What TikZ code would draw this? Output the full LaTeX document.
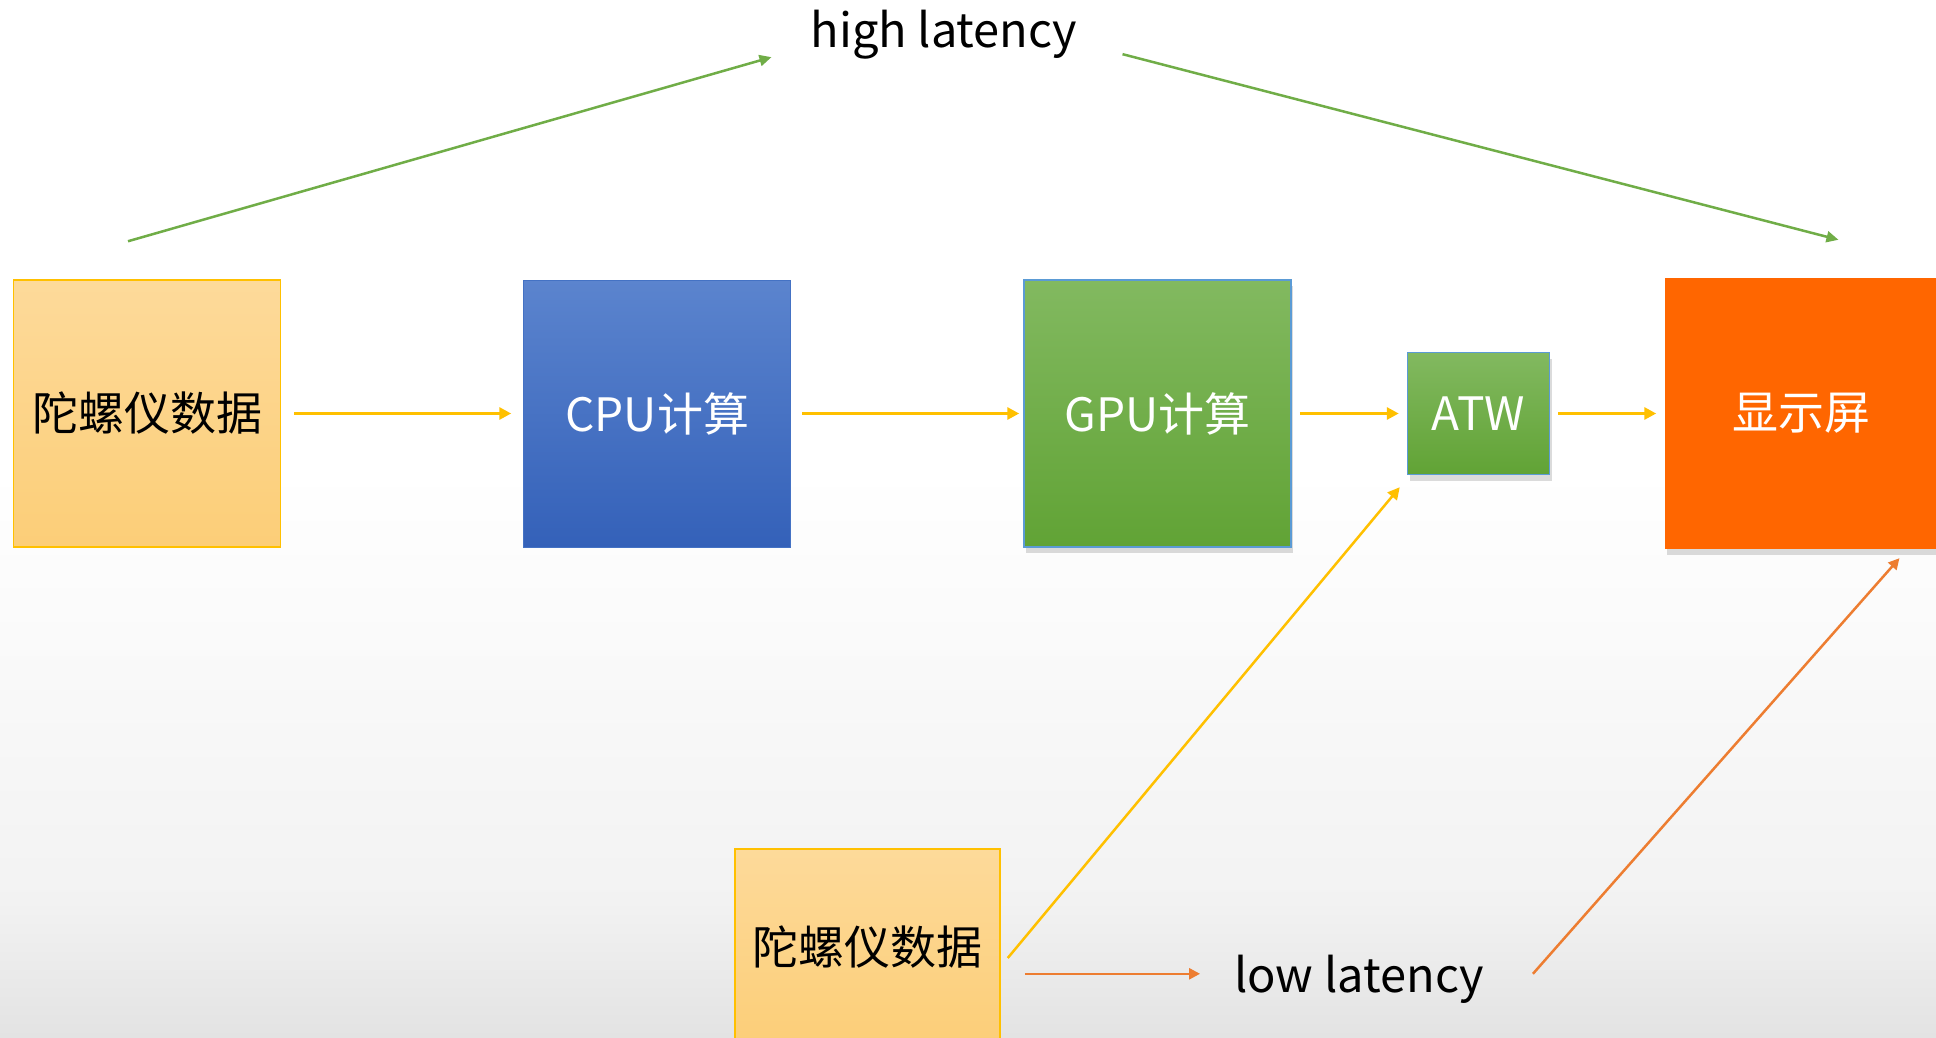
\documentclass[tikz,border=0pt]{standalone}
\usepackage{fontspec}
\newfontfamily\cjk{Noto Sans CJK SC}
\usepackage{xcolor}
\usetikzlibrary{arrows.meta,positioning,shadows}

\definecolor{gyroTop}{HTML}{FDDA9A}
\definecolor{gyroBot}{HTML}{FCCE78}
\definecolor{gyroEdge}{HTML}{FFC000}
\definecolor{cpuTop}{HTML}{5B84CE}
\definecolor{cpuBot}{HTML}{3461B9}
\definecolor{cpuEdge}{HTML}{4472C4}
\definecolor{gpuTop}{HTML}{82B960}
\definecolor{gpuBot}{HTML}{61A335}
\definecolor{gpuEdge}{HTML}{5B9BD5}
\definecolor{screenFill}{HTML}{FF6600}
\definecolor{arrYellow}{HTML}{FFC000}
\definecolor{arrGreen}{HTML}{70AD47}
\definecolor{arrOrange}{HTML}{ED7D31}

\begin{document}
\begin{tikzpicture}[
    x=1pt,y=-1pt,
    box/.style={minimum width=267pt,minimum height=267pt,inner sep=0pt,
                font=\cjk\fontsize{46}{50}\selectfont},
    gyro/.style={box,draw=gyroEdge,line width=1.5pt,
                 top color=gyroTop,bottom color=gyroBot,text=black},
    cpu/.style={box,draw=cpuEdge,line width=1pt,
                top color=cpuTop,bottom color=cpuBot,text=white},
    gpu/.style={box,draw=gpuEdge,line width=1.5pt,
                top color=gpuTop,bottom color=gpuBot,text=white,soft},
    soft/.style={drop shadow={shadow xshift=2pt,shadow yshift=-6pt,
                 opacity=.14,fill=black}},
    latency/.style={inner sep=0pt,anchor=base,font=\cjk\fontsize{47}{52}\selectfont},
    yarr/.style={draw=arrYellow,line width=3pt,
                 -{Triangle[length=12pt,width=12pt]}},
    garr/.style={draw=arrGreen,line width=2.5pt,
                 -{Triangle[length=12pt,width=11pt]}},
    oarr/.style={draw=arrOrange,line width=2.5pt,
                 -{Triangle[length=11pt,width=11pt]}}
  ]
  \useasboundingbox (0,0) rectangle (1936,1038);

  % page background, greying towards the bottom
  \fill[white] (0,0) rectangle (1936,1038);
  \shade[top color=white,bottom color=black!5] (0,470) rectangle (1936,900);
  \shade[top color=black!5,bottom color=black!11] (0,899) rectangle (1936,1038);

  % main pipeline
  \node[gyro] (g1) at (147,413.5) {陀螺仪数据};
  \node[cpu,right=242pt of g1] (cpu) {CPU计算};
  \node[gpu,right=232pt of cpu] (gpu) {GPU计算};
  \node[gpu,minimum width=142pt,minimum height=122pt,right=115pt of gpu] (atw) {ATW};
  \node[box,fill=screenFill,text=white,soft,minimum width=272pt,
        minimum height=271pt,right=115pt of atw] (disp) {显示屏};

  % late sample of the sensor
  \node[gyro,minimum width=265pt,minimum height=196pt] (g2) at (867.5,947) {陀螺仪数据};

  \node[latency] (high) at (944,48) {high latency};
  \node[latency] (low) at (1359,992) {low latency};

  \draw[yarr,shorten <=13pt,shorten >=12pt] (g1) -- (cpu);
  \draw[yarr,shorten <=11pt,shorten >=4pt] (cpu) -- (gpu);
  \draw[yarr,shorten <=8pt,shorten >=8pt] (gpu) -- (atw);
  \draw[yarr,shorten <=8pt,shorten >=9pt] (atw) -- (disp);

  \draw[garr] ([shift={(-19,-38)}]g1.north) -- ([shift={(-39,22)}]high.west);
  \draw[garr] ([shift={(45,19)}]high.east) -- ([shift={(37,-38)}]disp.north);

  \draw[yarr,line width=2.5pt] ([shift={(7,11)}]g2.east) -- ([shift={(-7,12)}]atw.south west);
  \draw[oarr] ([yshift=5pt]g2.east |- low.west) ++(24,0) -- ([shift={(-34,-5)}]low.west);
  \draw[oarr] ([shift={(49,-5)}]low.east) -- ([shift={(98,9)}]disp.south);
\end{tikzpicture}
\end{document}
